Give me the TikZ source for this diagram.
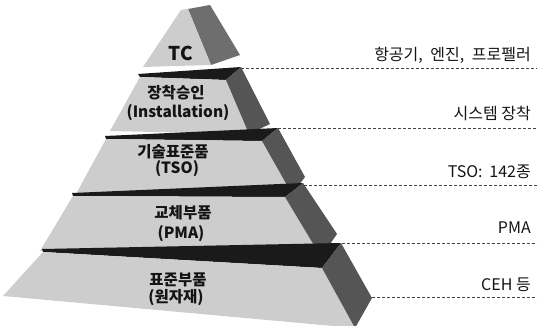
\documentclass[tikz,border=0pt]{standalone}
\usepackage{fontspec}
\newfontfamily\kr{Noto Sans CJK KR}
\definecolor{frontgray}{HTML}{CDCDCD}
\definecolor{sidegray}{HTML}{555555}
\definecolor{topgray}{HTML}{1A1A1A}
\definecolor{inkgray}{HTML}{141414}
\begin{document}
\begin{tikzpicture}[x=1pt,y=-1pt,
  frontface/.style={fill=frontgray},
  sideface/.style={fill=sidegray},
  topface/.style={fill=topgray},
  plab/.style={font=\kr\bfseries\fontsize{15.5}{17}\selectfont, text=inkgray, inner sep=0pt},
  rlab/.style={font=\kr\fontsize{16}{18}\selectfont, text=inkgray, inner sep=0pt, anchor=east},
  guide/.style={draw=inkgray!80, line width=0.6pt, dash pattern=on 3pt off 2pt}]
\useasboundingbox (0,0) rectangle (539,326);
\clip (0,0) rectangle (539,326);
% tier 1
\fill[sideface, fill=sidegray!85] (188,9) -- (210,5) -- (240,55) -- (211,65) -- cycle;
\fill[frontface] (143,67) -- (181,10) -- (188,9) -- (211,65) -- cycle;
% tier 2
\fill[topface] (138,74) -- (241,67) -- (226,80) -- (140,77) -- cycle;
\fill[frontface] (140,77) -- (226,80) -- (249,134) -- (110,131) -- cycle;
\fill[sideface] (226,80) -- (241,67) -- (270,124) -- (249,134) -- cycle;
% tier 3
\fill[topface] (105,136) -- (278,128) -- (262,141) -- (106,139) -- cycle;
\fill[frontface] (106,139) -- (262,141) -- (292,194) -- (76,194) -- cycle;
\fill[sideface] (262,141) -- (278,128) -- (305,177) -- (292,194) -- cycle;
% tier 4
\fill[topface] (72,193) -- (303,183) -- (285,197) -- (73,196) -- cycle;
\fill[frontface] (73,196) -- (285,197) -- (321,257) -- (40,251) -- cycle;
\fill[sideface] (285,197) -- (303,183) -- (337,234) -- (321,257) -- cycle;
% tier 5
\fill[topface] (42,249) -- (341,243) -- (322,268) -- (43,252) -- cycle;
\fill[frontface] (43,252) -- (322,268) -- (355,328) -- (3,296) -- cycle;
\fill[sideface] (322,268) -- (341,243) -- (372,298) -- (355,328) -- cycle;
% pyramid labels
\node[plab, font=\kr\bfseries\fontsize{19}{21}\selectfont] (tc) at (181,53) {TC};
\node[plab] (ins1) at (176,93) {장착승인};
\node[plab] (ins2) at (178,113) {(Installation)};
\node[plab] (tso1) at (173,152) {기술표준품};
\node[plab] (tso2) at (177,169) {(TSO)};
\node[plab] (pma1) at (183,213) {교체부품};
\node[plab] (pma2) at (181,234) {(PMA)};
\node[plab] (std1) at (178,280) {표준부품};
\node[plab] (std2) at (176,298) {(원자재)};
% right labels
\node[rlab] (r1) at (531,55) {항공기,\hspace{0.25em} 엔진,\hspace{0.25em} 프로펠러};
\node[rlab] (r2) at (531,113) {시스템 장착};
\node[rlab] (r3) at (531,172) {TSO:\hspace{0.2em} 142종};
\node[rlab] (r4) at (531,228) {PMA};
\node[rlab] (r5) at (531,285) {CEH 등};
% guide lines
\coordinate (g1a) at (241,68); \coordinate (g1b) at (537,68);
\coordinate (g2a) at (278,128); \coordinate (g2b) at (537,128);
\coordinate (g3a) at (304,185); \coordinate (g3b) at (537,185);
\coordinate (g4a) at (342,243); \coordinate (g4b) at (537,243);
\coordinate (g5a) at (372,297); \coordinate (g5b) at (537,297);
\draw[guide] (g1a) -- (g1b);
\draw[guide] (g2a) -- (g2b);
\draw[guide] (g3a) -- (g3b);
\draw[guide] (g4a) -- (g4b);
\draw[guide] (g5a) -- (g5b);
\end{tikzpicture}
\end{document}
